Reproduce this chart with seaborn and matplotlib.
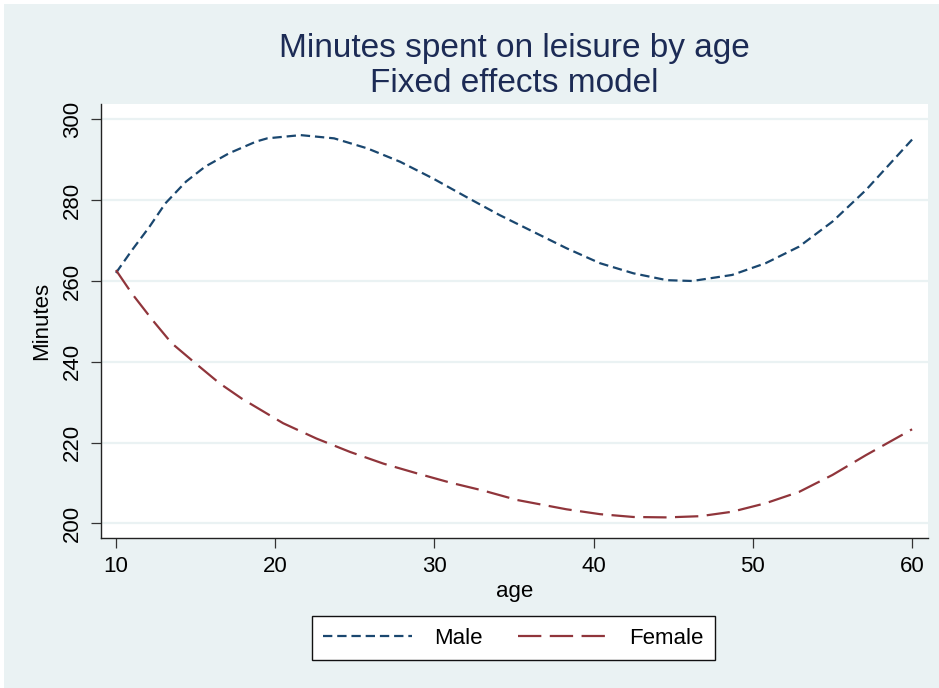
import matplotlib
matplotlib.use("Agg")
import matplotlib.pyplot as plt
import matplotlib.patches as mpatches
from matplotlib.lines import Line2D
import pandas as pd
import seaborn as sns

# ---- data ----
male_age = [10, 11.0, 12.1, 13.1, 14.4, 15.6, 17.1, 18.8, 19.5, 21.6, 23.7, 25.8, 27.85, 29.9, 32.0,
            34.1, 36.2, 38.3, 40.4, 42.5, 44.6, 46.2, 48.7, 50.8, 52.9, 55.0, 57.1, 60]
male_min = [262.0, 267.6, 273.4, 279.2, 284.6, 288.3, 291.6, 294.5, 295.3, 296.1, 295.3, 292.8, 289.5,
            285.4, 280.8, 276.3, 272.2, 268.1, 264.4, 261.9, 260.2, 260.0, 261.5, 264.4, 268.5,
            274.7, 282.5, 295.0]
female_age = [10, 11.0, 12.3, 13.5, 15.0, 16.5, 17.9, 20.5, 22.6, 24.7, 26.8, 28.9, 31.0, 33.1,
              35.2, 38.3, 40.4, 42.5, 44.6, 46.7, 48.7, 50.8, 52.9, 55.0, 57.1, 60]
female_min = [262.7, 256.9, 250.3, 244.6, 239.6, 234.7, 230.9, 224.8, 221.0, 217.7, 214.8, 212.4,
              210.1, 208.1, 205.8, 203.5, 202.3, 201.6, 201.5, 201.8, 202.9, 205.0, 207.8, 212.0,
              216.9, 223.3]
series_names = ["Male", "Female"]
x_ticks = [10, 20, 30, 40, 50, 60]
y_ticks = [200, 220, 240, 260, 280, 300]
title_lines = ["Minutes spent on leisure by age", "Fixed effects model"]

df = pd.DataFrame({
    "age": male_age + female_age,
    "Minutes": male_min + female_min,
    "sex": [series_names[0]] * len(male_age) + [series_names[1]] * len(female_age),
})

sns.set_style("white")
plt.rcParams["font.family"] = ["Liberation Sans", "DejaVu Sans"]
plt.rcParams["text.color"] = "black"
plt.rcParams["axes.labelcolor"] = "black"
plt.rcParams["xtick.color"] = "black"
plt.rcParams["ytick.color"] = "black"

BG = "#EAF2F3"
colors = {"Male": "#1a476f", "Female": "#90353b"}
dashes = {"Male": (4.2, 2.2), "Female": (10.5, 3.8)}

fig = plt.figure(figsize=(9.39, 6.88), dpi=100, facecolor="white")
fig.patches.append(mpatches.Rectangle((4 / 939, 0), 1, 1 - 4 / 688, transform=fig.transFigure,
                                      facecolor=BG, edgecolor="none", zorder=-10))
ax = fig.add_axes([101 / 939, 1 - 538 / 688, (928 - 101) / 939, (538 - 104) / 688])
ax.set_facecolor("white")

sns.lineplot(data=df, x="age", y="Minutes", hue="sex", style="sex",
             palette=colors, dashes=dashes, linewidth=1.6, ax=ax, legend=False,
             estimator=None, sort=True)

ax.set_xlim(9.06, 61.0)
ax.set_ylim(196.4, 303.8)
ax.set_xticks(x_ticks)
ax.set_yticks(y_ticks)
ax.yaxis.grid(True, color=BG, linewidth=1.6)
ax.xaxis.grid(False)
ax.set_axisbelow(True)

for s in ["top", "right"]:
    ax.spines[s].set_visible(False)
for s in ["left", "bottom"]:
    ax.spines[s].set_color("#222222")
    ax.spines[s].set_linewidth(1.0)

ax.tick_params(axis="both", direction="out", length=7, width=0.9, color="#333333",
               labelcolor="black", labelsize=16, pad=6, left=True, bottom=True)
for lab in ax.get_yticklabels():
    lab.set_rotation(90)
    lab.set_va("center")

ax.set_xlabel("age", fontsize=16, labelpad=3, color="black")
ax.set_ylabel("Minutes", fontsize=16, labelpad=7, color="black")

fig.text((101 + 928) / 2 / 939, 1 - 48 / 688, title_lines[0], ha="center", va="center",
         fontsize=24, color="#1c2b55")
fig.text((101 + 928) / 2 / 939, 1 - 83 / 688, title_lines[1], ha="center", va="center",
         fontsize=24, color="#1c2b55")

handles = [Line2D([], [], color=colors[n], linewidth=1.6, dashes=dashes[n]) for n in series_names]
leg = fig.legend(handles, series_names, loc="center", bbox_to_anchor=(513.5 / 939, 1 - 638 / 688),
                 ncol=2, fontsize=16, frameon=True, fancybox=False, edgecolor="#111111",
                 facecolor="white", framealpha=1, handlelength=4.0, columnspacing=1.6,
                 handletextpad=1.0, borderpad=0.5)
leg.get_frame().set_linewidth(1.0)
for t in leg.get_texts():
    t.set_color("black")

fig.savefig("out.png", dpi=100, facecolor=fig.get_facecolor())
